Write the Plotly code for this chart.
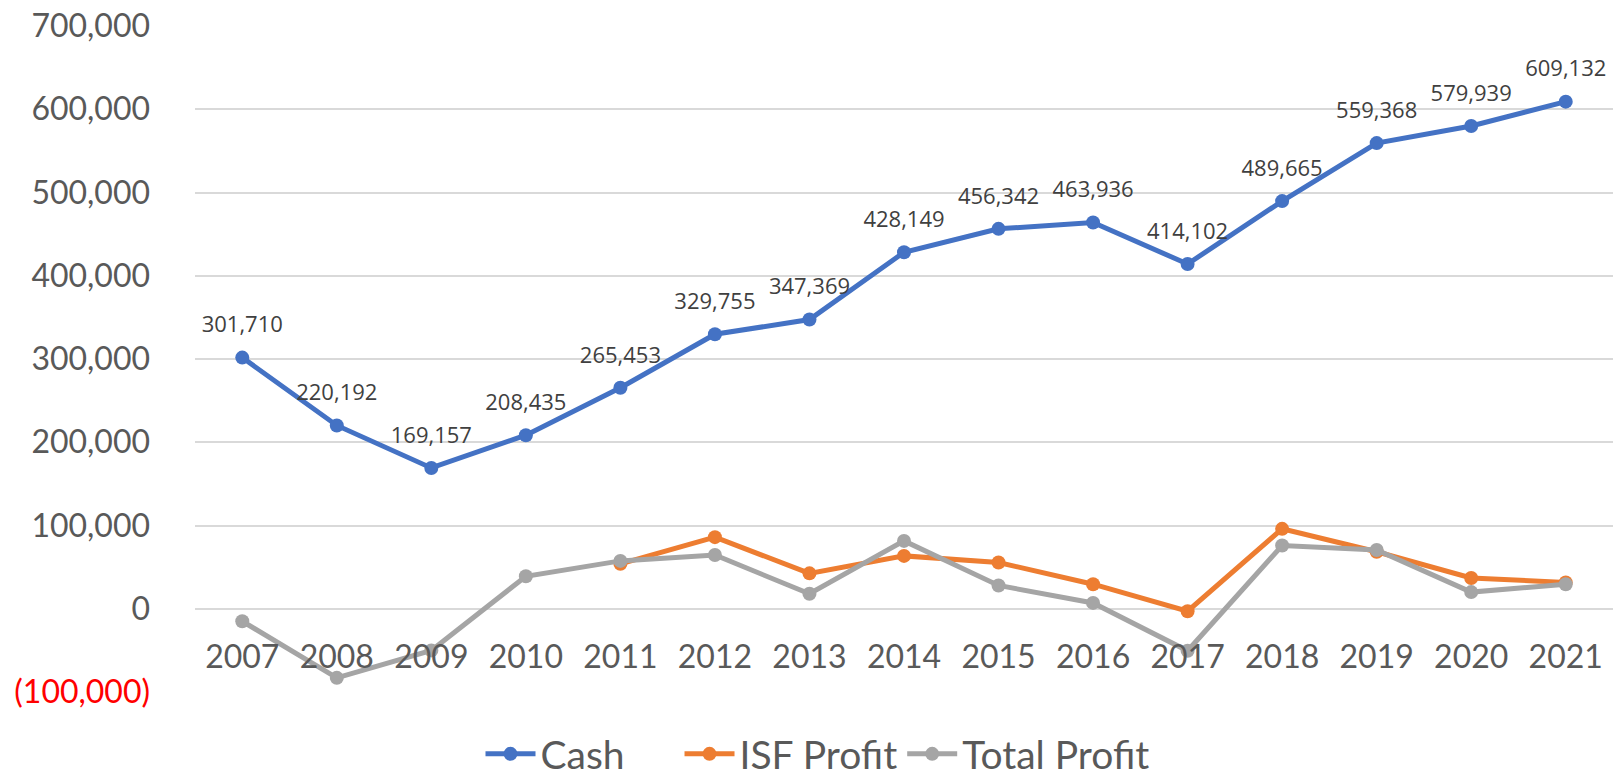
import plotly.graph_objects as go

years = ["2007", "2008", "2009", "2010", "2011", "2012", "2013", "2014",
         "2015", "2016", "2017", "2018", "2019", "2020", "2021"]
cash = [301710, 220192, 169157, 208435, 265453, 329755, 347369, 428149,
        456342, 463936, 414102, 489665, 559368, 579939, 609132]
isf_profit = [None, None, None, None, 54000, 86000, 42500, 63500,
              55500, 29500, -3000, 96000, 68500, 37000, 31500]
total_profit = [-15000, -83000, -50000, 39000, 57500, 64500, 18000, 81500,
                28000, 7000, -50500, 76000, 70500, 20000, 29500]
y_ticks = [-100000, 0, 100000, 200000, 300000, 400000, 500000, 600000, 700000]


def fmt(v):
    if v < 0:
        return "<span style='color:#FF0000'>(%s)</span>" % format(-v, ",")
    return format(v, ",")


BLUE = "#4472C4"
ORANGE = "#ED7D31"
GRAY = "#A5A5A5"
NB = "\u00a0"

fig = go.Figure()
fig.add_trace(go.Scatter(
    x=years, y=cash, name="Cash" + NB * 5, mode="lines+markers",
    line=dict(color=BLUE, width=5), marker=dict(color=BLUE, size=14),
    cliponaxis=False,
))
fig.add_trace(go.Scatter(
    x=years, y=isf_profit, name="ISF Profit", mode="lines+markers",
    line=dict(color=ORANGE, width=5), marker=dict(color=ORANGE, size=14),
    cliponaxis=False,
))
fig.add_trace(go.Scatter(
    x=years, y=total_profit, name="Total Profit", mode="lines+markers",
    line=dict(color=GRAY, width=5), marker=dict(color=GRAY, size=14),
    cliponaxis=False,
))
# data labels for Cash (transparent, larger marker gives the label offset)
fig.add_trace(go.Scatter(
    x=years, y=cash, mode="markers+text", showlegend=False, hoverinfo="skip",
    marker=dict(size=30, color="rgba(0,0,0,0)"),
    text=[format(v, ",") for v in cash], textposition="top center",
    textfont=dict(family="Open Sans", size=22, color="#404040"),
    cliponaxis=False,
))

fig.update_layout(
    width=1613, height=779,
    margin=dict(l=195, r=0, t=26, b=87, autoexpand=False),
    paper_bgcolor="white", plot_bgcolor="white",
    font=dict(family="Lato", color="#595959"),
    showlegend=True,
    legend=dict(orientation="h", x=0.439, xanchor="center", y=-0.0931,
                yanchor="middle", font=dict(family="Lato", size=39, color="#595959"),
                itemwidth=50, tracegroupgap=0),
    xaxis=dict(type="category", range=[-0.5, 14.5], anchor="free", position=0.125,
               showgrid=False, showline=False, zeroline=False, ticks="",
               tickfont=dict(family="Lato", size=32, color="#595959"),
               ticklabelstandoff=26),
    yaxis=dict(range=[-100000, 700000], tickvals=y_ticks,
               ticktext=[fmt(v) for v in y_ticks],
               showgrid=True, gridcolor="#D9D9D9", gridwidth=1.5,
               zeroline=False, showline=False, ticks="",
               tickfont=dict(family="Lato", size=32, color="#595959"),
               ticklabelstandoff=44),
)

fig.write_html("out.html")
